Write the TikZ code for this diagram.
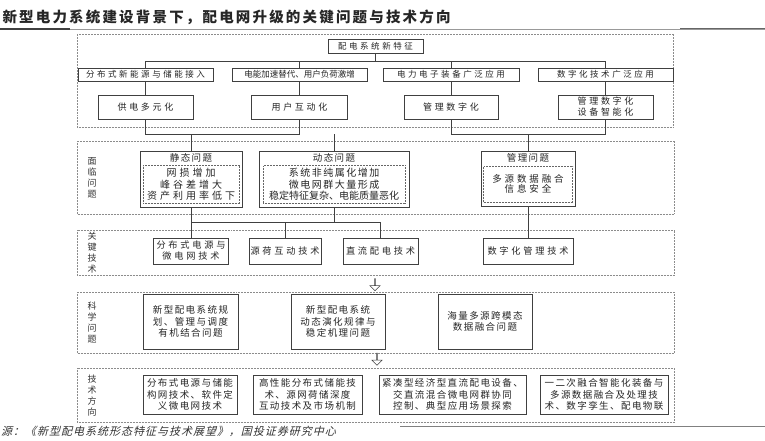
\documentclass[tikz,border=0pt]{standalone}
\usepackage{fontspec}
\setmainfont{Noto Sans CJK SC}
\newfontfamily\cjkwide[LetterSpace=30]{Noto Sans CJK SC}
\newfontfamily\cjkmid[LetterSpace=15]{Noto Sans CJK SC}
\newfontfamily\cjkslant[FakeSlant=0.25, LetterSpace=9]{Noto Sans CJK SC}
\usepackage{tikz}
\usetikzlibrary{positioning, shapes.arrows}

\begin{document}
\begin{tikzpicture}[x=1pt, y=-1pt,
    box/.style={draw=black!75, line width=0.7pt, fill=white, align=center,
                inner sep=1pt, text=black!85},
    sub/.style={draw=black!60, densely dotted, line width=0.5pt,
                align=center, inner sep=1pt, text=black!85},
    frame/.style={draw=black!45, densely dotted, line width=0.5pt},
    conn/.style={draw=black!75, line width=0.6pt},
    side/.style={align=center, text=black!80,
                 font=\fontsize{9}{11}\selectfont},
    hollow/.style={single arrow, draw=black!75, line width=0.5pt, fill=white,
                   shape border rotate=270, minimum height=12pt,
                   minimum width=10pt, single arrow head extend=3pt,
                   inner sep=0pt},
    fsmall/.style={font=\cjkwide\fontsize{8.5}{10}\selectfont},
    fplain/.style={font=\fontsize{8.5}{10}\selectfont},
    fmain/.style={font=\cjkwide\fontsize{9}{11}\selectfont},
    ftext/.style={font=\cjkmid\fontsize{9.5}{11.5}\selectfont},
]
\fill[white] (0,0) rectangle (765,441);
\useasboundingbox (0,0) rectangle (765,441);

% --- Title ---
\node[anchor=west, text=black!85,
      font=\cjkmid\bfseries\fontsize{14.5}{16}\selectfont] (title) at (-1,17)
    {新型电力系统建设背景下，配电网升级的关键问题与技术方向};
\draw[black!40, line width=0.6pt] (0,29) -- (765,29);
\draw[black!75, line width=1.2pt] (0,29) -- (70,29);
\draw[black!60, line width=1pt] (680,29) -- (765,29);

% --- New features ---
\draw[frame] (77,34) rectangle (673,127);
\node[box, fsmall, minimum width=95, minimum height=14] (top) at (375.5,46)
    {配电系统新特征};

\node[box, fsmall, minimum width=135, minimum height=13] (a1) at (145.5,74.5)
    {分布式新能源与储能接入};
\node[box, fplain, minimum width=135, minimum height=13] (a2) at (299.5,74.5)
    {电能加速替代、用户负荷激增};
\node[box, fsmall, minimum width=136, minimum height=13] (a3) at (451,74.5)
    {电力电子装备广泛应用};
\node[box, fsmall, minimum width=135, minimum height=13] (a4) at (605.5,74.5)
    {数字化技术广泛应用};

\node[box, fmain, minimum width=95, minimum height=24] (b1) at (145.5,107)
    {供电多元化};
\node[box, fmain, minimum width=96, minimum height=24] (b2) at (299.5,107)
    {用户互动化};
\node[box, fmain, minimum width=94, minimum height=24] (b3) at (451,107)
    {管理数字化};
\node[box, fmain, minimum width=95, minimum height=24] (b4) at (605.5,107)
    {管理数字化\\设备智能化};

% --- Problems ---
\draw[frame] (77,141) rectangle (674,214);
\node[side] (lbface) at (92,178) {面\\临\\问\\题};

\node[box, minimum width=102, minimum height=56] (st) at (191,179) {};
\node[ftext, text=black!85] (stt) at (191,158) {静态问题};
\node[sub, minimum width=96, minimum height=38,
      font=\cjkwide\fontsize{10}{11.5}\selectfont] (sti) at (191,184.5)
    {网损增加\\峰谷差增大\\资产利用率低下};

\node[box, minimum width=150, minimum height=56] (dt) at (334,179) {};
\node[ftext, text=black!85] (dtt) at (334,158) {动态问题};
\node[sub, minimum width=142, minimum height=38,
      font=\fontsize{10}{11.5}\selectfont] (dti) at (334,184.5)
    {{\cjkmid 系统非纯属化增加}\\{\cjkmid 微电网群大量形成}\\稳定特征复杂、电能质量恶化};

\node[box, minimum width=94, minimum height=55] (gl) at (528,178.5) {};
\node[ftext, text=black!85] (glt) at (528,158) {管理问题};
\node[sub, minimum width=89, minimum height=36,
      font=\cjkwide\fontsize{9.5}{10.5}\selectfont] (gli) at (528,184)
    {多源数据融合\\信息安全};

% --- Key technologies ---
\draw[frame] (77,230) rectangle (674,275);
\node[side] (lbkey) at (92,253) {关\\键\\技\\术};
\node[box, minimum width=75, minimum height=26,
      font=\cjkwide\fontsize{9.2}{11}\selectfont] (k1) at (191,251)
    {分布式电源与\\微电网技术};
\node[box, minimum width=72, minimum height=26,
      font=\cjkwide\fontsize{9.2}{11}\selectfont] (k2) at (285,251)
    {源荷互动技术};
\node[box, minimum width=75, minimum height=26,
      font=\cjkwide\fontsize{9.2}{11}\selectfont] (k3) at (380.5,251)
    {直流配电技术};
\node[box, minimum width=90, minimum height=26,
      font=\cjkwide\fontsize{9.2}{11}\selectfont] (k4) at (528,251)
    {数字化管理技术};

\node[hollow] (ar1) at (375,284.5) {};

% --- Scientific questions ---
\draw[frame] (77,292) rectangle (674,353);
\node[side] (lbsci) at (92,323) {科\\学\\问\\题};
\node[box, ftext, minimum width=95, minimum height=55] (d1) at (190.5,321.5)
    {新型配电系统规\\划、管理与调度\\有机结合问题};
\node[box, ftext, minimum width=94, minimum height=55] (d2) at (338,321.5)
    {新型配电系统\\动态演化规律与\\稳定机理问题};
\node[box, ftext, minimum width=94, minimum height=55] (d3) at (485,321.5)
    {海量多源跨模态\\数据融合问题};

\node[hollow] (ar2) at (377,359) {};

% --- Technical directions ---
\draw[frame] (77,368) rectangle (674,422);
\node[side] (lbdir) at (92,396) {技\\术\\方\\向};
\node[box, ftext, minimum width=94, minimum height=39] (e1) at (190,394.5)
    {分布式电源与储能\\构网技术、软件定\\义微电网技术};
\node[box, ftext, minimum width=109, minimum height=39] (e2) at (307.5,394.5)
    {高性能分布式储能技\\术、源网荷储深度\\互动技术及市场机制};
\node[box, ftext, minimum width=147, minimum height=39] (e3) at (452.5,394.5)
    {紧凑型经济型直流配电设备、\\交直流混合微电网群协同\\控制、典型应用场景探索};
\node[box, ftext, minimum width=128, minimum height=39] (e4) at (604,394.5)
    {一二次融合智能化装备与\\多源数据融合及处理技\\术、数字孪生、配电物联};

% --- Connectors ---
\draw[conn] (top.south) -- ++(0,8) coordinate (topbus);
\draw[conn] (a1.north) |- (topbus) -| (a4.north);
\draw[conn] (a2.north) -- (a2.north |- topbus);
\draw[conn] (a3.north) -- (a3.north |- topbus);
\foreach \i in {1,...,4}
    \draw[conn] (a\i) -- (b\i);
\draw[conn] (b1.south) -- ++(0,15) -| (b2.south);
\draw[conn] (b3.south) -- ++(0,15) -| (b4.south);
\draw[conn] (st.north) -- ++(0,-17);
\draw[conn] (dt.north) -- ++(0,-17);
\draw[conn] (gl.north) -- ++(0,-17);
\draw[conn] (st.south) -- (k1.north);
\draw[conn] (st.south) ++(0,15) -| (k3.north);
\draw[conn] (dt.south) -- ++(0,15);
\draw[conn] (k2.north) -- ++(0,-16);
\draw[conn] (gl.south) -- (k4.north);

% --- Source ---
\node[anchor=west, text=black!80, inner sep=1pt,
      font=\cjkslant\fontsize{11}{12.5}\selectfont] (src) at (0,431.5)
    {源：《新型配电系统形态特征与技术展望》，国投证券研究中心};
\draw[black!50, line width=0.8pt] (400,426) -- (765,426);
\end{tikzpicture}
\end{document}
